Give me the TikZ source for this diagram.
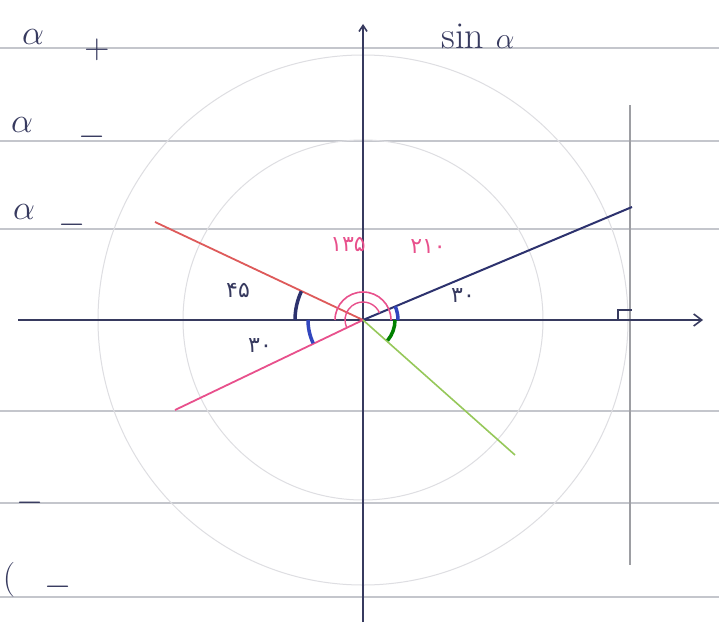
\documentclass[tikz,border=0pt]{standalone}
\usepackage{fontspec}
\newfontfamily\fafont[Script=Arabic]{DejaVu Sans}
\usetikzlibrary{arrows.meta}
\definecolor{ink}{RGB}{55,58,95}
\definecolor{rule}{RGB}{196,198,204}
\definecolor{faint}{RGB}{222,222,226}
\definecolor{navy}{RGB}{45,50,110}
\definecolor{redl}{RGB}{222,90,90}
\definecolor{pinkl}{RGB}{232,80,140}
\definecolor{greenl}{RGB}{150,200,90}
\definecolor{bluem}{RGB}{50,70,190}
\tikzset{
  ruleline/.style={rule, line width=1.4pt},
  axisline/.style={ink, line width=1.6pt},
  inktext/.style={ink, font=\fontsize{32}{32}\selectfont, inner sep=0pt, scale=1.4},
  fanum/.style={font=\fafont\fontsize{22}{22}\selectfont, inner sep=0pt},
  anglemark/.style={line width=3.5pt},
}
\begin{document}
\begin{tikzpicture}[x=1pt,y=-1pt]
\fill[white] (0,0) rectangle (719,634);
\useasboundingbox (0,0) rectangle (719,634);
% ruled lines
\foreach \y in {48,141,229,411,503,597} \draw[ruleline] (0,\y) -- (719,\y);
% faint circles
\coordinate (O) at (363,320);
\draw[faint, line width=1pt] (O) circle[radius=265];
\draw[faint, line width=1pt] (O) circle[radius=180];
% tangent vertical
\coordinate (t1) at (630,105);
\coordinate (t2) at (630,565);
\draw[rule!80!black, line width=1.2pt] (t1) -- (t2);
% axes
\coordinate (xl) at (18,320);
\coordinate (xr) at (703,320);
\coordinate (yt) at (363,24);
\coordinate (yb) at (363,622);
\draw[axisline, -{Straight Barb[length=8pt,width=12pt]}] (xl) -- (xr);
\draw[axisline, -{Straight Barb[length=6pt,width=8pt]}] (yb) -- (yt);
% right angle mark
\coordinate (ra1) at (618,320);
\coordinate (ra2) at (618,310);
\coordinate (ra3) at (632,310);
\draw[ink, line width=1.4pt] (ra1) -- (ra2) -- (ra3);
% rays
\coordinate (pb) at (632,207);
\coordinate (pr) at (155,222);
\coordinate (pp) at (175,410);
\coordinate (pg) at (515,455);
\draw[navy, line width=2pt] (O) -- (pb);
\draw[redl, line width=1.8pt] (O) -- (pr);
\draw[pinkl, line width=1.8pt] (O) -- (pp);
\draw[greenl, line width=1.6pt] (O) -- (pg);
% angle marks (y axis flipped: visual angle phi = polar angle -phi)
\draw[bluem, anglemark] ([shift={(0:35)}]O) arc[start angle=0, end angle=-23, radius=35];
\draw[navy, anglemark] ([shift={(-155:68)}]O) arc[start angle=-155, end angle=-180, radius=68];
\draw[bluem, anglemark] ([shift={(-180:55)}]O) arc[start angle=-180, end angle=-205, radius=55];
\draw[pinkl, line width=1.6pt] ([shift={(0:28)}]O) arc[start angle=0, end angle=-180, radius=28];
\draw[pinkl, line width=1.4pt] ([shift={(-23:18)}]O) arc[start angle=-23, end angle=-205, radius=18];
\draw[green!50!black, anglemark] ([shift={(40:32)}]O) arc[start angle=40, end angle=0, radius=32];
% left texts
\node[inktext] (a1) at (33,37) {$\alpha$};
\node[inktext] (s1) at (97,50) {$+$};
\node[inktext] (a2) at (22,125) {$\alpha$};
\node[inktext] (s2) at (92,137) {$-$};
\node[inktext] (a3) at (24,212) {$\alpha$};
\node[inktext] (s3) at (72,225) {$-$};
\node[inktext] (s4) at (30,503) {$-$};
\node[inktext] (c5) at (9,580) {$($};
\node[inktext] (s5) at (58,587) {$-$};
\node[inktext, scale=0.85] (sin) at (478,36) {sin $\alpha$};
% angle labels
\node[fanum, pinkl] (l210) at (428,247) {۲۱۰};
\node[fanum, pinkl] (l135) at (348,244) {۱۳۵};
\node[fanum, ink] (l30r) at (463,296) {۳۰};
\node[fanum, ink] (l45) at (238,290) {۴۵};
\node[fanum, ink] (l30l) at (260,346) {۳۰};
\end{tikzpicture}
\end{document}
